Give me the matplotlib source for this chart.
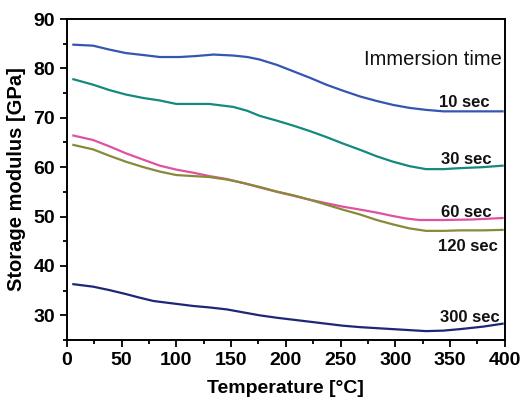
import matplotlib
matplotlib.use('Agg')
import matplotlib.pyplot as plt
from matplotlib.ticker import MultipleLocator

plt.rcParams['font.family'] = ['Liberation Sans', 'DejaVu Sans']

# temperature sample points [°C] and storage modulus [GPa]
t_10 = [6, 24, 39, 54, 70, 85, 103, 118, 134, 152, 165, 176, 192, 207, 222, 237, 252,
        268, 283, 298, 313, 328, 344, 370, 398]
e_10 = [84.8, 84.6, 83.8, 83.1, 82.7, 82.3, 82.3, 82.5, 82.8, 82.6, 82.3, 81.8, 80.7,
        79.4, 78.1, 76.7, 75.5, 74.3, 73.4, 72.6, 72.0, 71.6, 71.3, 71.3, 71.3]

t_30 = [6, 24, 39, 54, 70, 85, 100, 115, 130, 152, 165, 176, 192, 207, 222, 237, 252,
        268, 283, 298, 313, 328, 344, 359, 380, 398]
e_30 = [77.8, 76.7, 75.6, 74.7, 74.0, 73.5, 72.8, 72.8, 72.8, 72.2, 71.4, 70.4, 69.4,
        68.4, 67.3, 66.1, 64.8, 63.5, 62.2, 61.1, 60.2, 59.6, 59.6, 59.8, 60.0, 60.3]

t_60 = [6, 24, 39, 54, 70, 85, 100, 115, 130, 146, 161, 176, 192, 207, 222, 237, 252,
        268, 283, 298, 310, 322, 344, 370, 398]
e_60 = [66.4, 65.5, 64.2, 62.8, 61.5, 60.3, 59.5, 58.9, 58.2, 57.6, 56.8, 55.9, 55.0,
        54.2, 53.4, 52.7, 52.0, 51.4, 50.8, 50.1, 49.6, 49.3, 49.3, 49.4, 49.7]

t_120 = [6, 24, 39, 54, 70, 85, 100, 115, 130, 146, 161, 176, 191, 207, 222, 237, 252,
         268, 283, 298, 313, 328, 344, 359, 380, 398]
e_120 = [64.5, 63.6, 62.3, 61.1, 60.0, 59.1, 58.4, 58.2, 58.0, 57.5, 56.8, 56.0, 55.1,
         54.3, 53.4, 52.4, 51.4, 50.4, 49.3, 48.4, 47.6, 47.1, 47.1, 47.2, 47.2, 47.3]

t_300 = [6, 24, 39, 54, 66, 79, 97, 115, 130, 146, 161, 176, 192, 207, 222, 237, 252,
         268, 283, 298, 313, 328, 344, 359, 380, 398]
e_300 = [36.3, 35.8, 35.1, 34.3, 33.6, 32.9, 32.4, 31.9, 31.6, 31.2, 30.6, 30.0, 29.5,
         29.1, 28.7, 28.3, 27.9, 27.6, 27.4, 27.2, 27.0, 26.8, 26.9, 27.2, 27.7, 28.3]

labels = ['10 sec', '30 sec', '60 sec', '120 sec', '300 sec']
colors = ['#3556b0', '#138a7c', '#e0529d', '#878a38', '#1d2777']
temps = [t_10, t_30, t_60, t_120, t_300]
moduli = [e_10, e_30, e_60, e_120, e_300]

fig = plt.figure(figsize=(5.22, 4.0), dpi=100)
ax = fig.add_axes([0.128, 0.15, 0.839, 0.8025])

# label anchor (x, y) in data units, right aligned
label_pos = [(386, 73.0), (388, 61.6), (388, 50.9), (394, 44.0), (395, 29.6)]

for t, e, c, lab, (lx, ly) in zip(temps, moduli, colors, labels, label_pos):
    ax.plot(t, e, color=c, lw=1.6)
    ax.text(lx, ly, lab, ha='right', va='center', fontsize=12,
            fontweight='bold', color='#111111')

ax.text(397, 81.7, 'Immersion time', ha='right', va='center', fontsize=14.5,
        color='#111111')

ax.set_xlim(0, 400)
ax.set_ylim(25, 90)
ax.xaxis.set_major_locator(MultipleLocator(50))
ax.xaxis.set_minor_locator(MultipleLocator(25))
ax.yaxis.set_major_locator(MultipleLocator(10))
ax.yaxis.set_minor_locator(MultipleLocator(5))
ax.tick_params(which='both', direction='out', width=1.3, top=False, right=False)
ax.tick_params(which='major', length=5, labelsize=14)
ax.tick_params(which='minor', length=3)
for lbl in ax.get_xticklabels() + ax.get_yticklabels():
    lbl.set_fontweight('bold')
for s in ax.spines.values():
    s.set_linewidth(1.4)

ax.set_xlabel('Temperature [°C]', fontsize=14, fontweight='bold', labelpad=8)
ax.set_ylabel('Storage modulus [GPa]', fontsize=14.5, fontweight='bold', labelpad=5)

fig.savefig('out.png', dpi=100)
